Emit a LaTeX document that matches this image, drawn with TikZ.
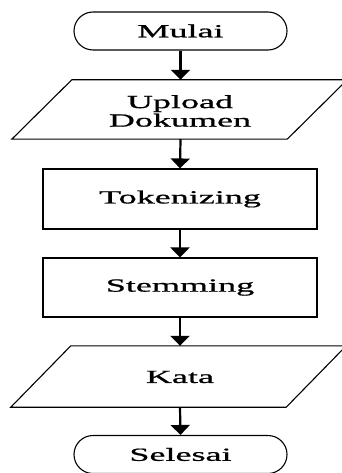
\documentclass[tikz,border=0pt]{standalone}
\usepackage{fontspec}
\setmainfont[FakeStretch=1.95,FakeBold=0.9]{Liberation Serif}
\usetikzlibrary{arrows.meta,calc}
\begin{document}
\begin{tikzpicture}[x=1pt,y=-1pt,
  txt/.style={font=\fontsize{18.5}{18.5}\selectfont, align=center, inner sep=0pt},
  term/.style={txt, draw, line width=1.1pt, rounded corners=19pt, minimum width=213pt, minimum height=38pt},
  proc/.style={txt, draw, line width=1.1pt, minimum width=274pt, minimum height=60pt},
  io/.style={txt, minimum width=275pt},
  flow/.style={line width=2.2pt, -{Triangle[width=19pt,length=10pt]}}]
\useasboundingbox (0,0) rectangle (341,473);
\fill[white] (0,0) rectangle (341,473);
\node[term] (mulai) at (180.5,31) {Mulai};
\node[io, minimum height=59pt] (up) at (179.5,109.5) {};
\draw[line width=1.1pt] ($(up.north west)+(30,0)$) -- ($(up.north east)+(30,0)$) -- ($(up.south east)-(30,0)$) -- ($(up.south west)-(30,0)$) -- cycle;
\node[txt] (uptxt) at (180,111) {Upload\\Dokumen};
\node[proc] (tok) at (180,199) {Tokenizing};
\node[proc, minimum height=59pt] (stem) at (180,287.5) {Stemming};
\node[io, minimum height=61pt] (kata) at (178.5,376.5) {};
\draw[line width=1.1pt] ($(kata.north west)+(30,0)$) -- ($(kata.north east)+(30,0)$) -- ($(kata.south east)-(30,0)$) -- ($(kata.south west)-(30,0)$) -- cycle;
\node[txt] (katatxt) at (180,377) {Kata};
\node[term] (sel) at (180.5,454.5) {Selesai};
\draw[flow] (mulai.south) -- (mulai.south |- up.north);
\draw[flow] (mulai.south |- up.south) -- (tok.north);
\draw[flow] (tok.south) -- (stem.north);
\draw[flow] (stem.south) -- (stem.south |- kata.north);
\draw[flow] (stem.south |- kata.south) -- (sel.north);
\end{tikzpicture}
\end{document}
